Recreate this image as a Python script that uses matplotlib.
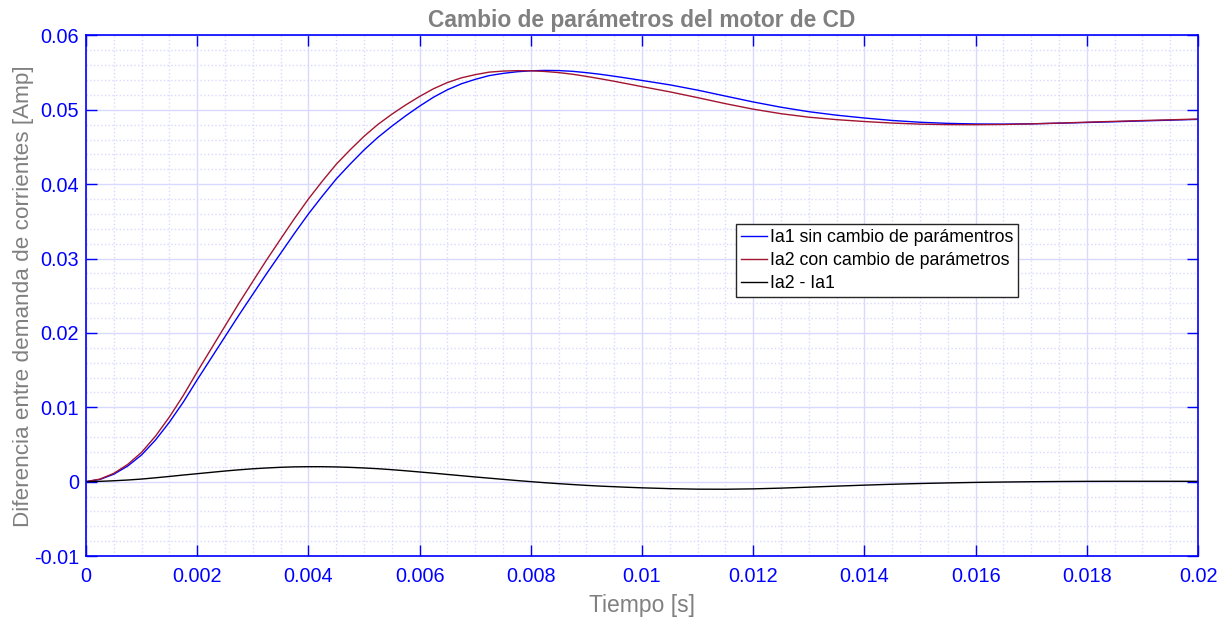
import numpy as np
import matplotlib
matplotlib.use("Agg")
import matplotlib.pyplot as plt
from matplotlib.ticker import MultipleLocator

plt.rcParams['font.family'] = ['Liberation Sans', 'DejaVu Sans']

# tiempo de simulacion [s]: paso fino hasta 10 ms, despues cada 0.5 ms
t = np.r_[np.arange(40) * 0.00025, 0.01 + np.arange(21) * 0.0005]

# corriente sin cambio de parametros [A]
ia1 = [0.0, 0.0003, 0.0010, 0.0021, 0.0036, 0.0056, 0.0080, 0.0107, 0.0137,
       0.0166, 0.0195, 0.0224, 0.0252, 0.0280, 0.0307, 0.0334, 0.0360, 0.0384,
       0.0407, 0.0427, 0.0446, 0.0463, 0.0478, 0.0492, 0.0505, 0.0517, 0.0527,
       0.0535, 0.0541, 0.0546, 0.0549, 0.05512, 0.05525, 0.05530, 0.05528,
       0.05518, 0.05500, 0.05478, 0.05452, 0.05424,
       0.05395, 0.05336, 0.05265, 0.05185, 0.05106, 0.05035, 0.04975, 0.04928,
       0.04890, 0.04857, 0.04833, 0.04818, 0.04810, 0.04808, 0.04812, 0.04820,
       0.04830, 0.04840, 0.04851, 0.04861, 0.04872]

# corriente con cambio de parametros [A]
ia2 = [0.0, 0.00034, 0.00112, 0.00232, 0.00395, 0.00612, 0.0087, 0.01159,
       0.01477, 0.01785, 0.02093, 0.02399, 0.02693, 0.02984, 0.03263, 0.03539,
       0.03801, 0.04041, 0.04268, 0.04462, 0.04644, 0.04804, 0.04941, 0.05066,
       0.0518, 0.05284, 0.05367, 0.0543, 0.05473, 0.05507, 0.05521, 0.05527,
       0.05525, 0.05516, 0.05501, 0.05479, 0.0545, 0.05418, 0.05384, 0.05348,
       0.05312, 0.05242, 0.05164, 0.05083, 0.05009, 0.04948, 0.04901, 0.04868,
       0.04843, 0.04822, 0.04808, 0.04801, 0.048, 0.04803, 0.04811, 0.04822,
       0.04834, 0.04845, 0.04856, 0.04866, 0.04876]

dif = np.array(ia2) - np.array(ia1)

azul = '#0000ff'
gris = '#808080'

fig = plt.figure(figsize=(12.27, 6.18), dpi=100)
ax = fig.add_axes([0.0701, 0.1003, 0.9063, 0.8423])

ax.plot(t, ia1, color=azul, lw=1.0, label='Ia1 sin cambio de parámentros')
ax.plot(t, ia2, color='#a2142f', lw=1.0, label='Ia2 con cambio de parámetros')
ax.plot(t, dif, color='black', lw=1.0, label='Ia2 - Ia1')

ax.set_xlim(0, 0.02)
ax.set_ylim(-0.01, 0.06)
ax.xaxis.set_major_locator(MultipleLocator(0.002))
ax.xaxis.set_minor_locator(MultipleLocator(0.0005))
ax.yaxis.set_major_locator(MultipleLocator(0.01))
ax.yaxis.set_minor_locator(MultipleLocator(0.002))

ax.set_xticklabels([('%g' % v) for v in np.round(ax.get_xticks(), 4)])
ax.set_yticklabels([('%g' % v) for v in np.round(ax.get_yticks(), 4)])

ax.grid(which='major', color='#d9d9ff', lw=1.0, ls='-')
ax.grid(which='minor', color='#d9d9ff', lw=1.0, ls=':')
ax.set_axisbelow(True)

for s in ax.spines.values():
    s.set_color(azul)
    s.set_linewidth(1.2)

ax.tick_params(which='major', direction='in', length=8, width=1.0,
               colors=azul, labelsize=14.3, top=True, right=True)
ax.tick_params(axis='x', which='major', pad=8)
ax.tick_params(axis='y', which='major', pad=5)
ax.tick_params(which='minor', length=0, top=True, right=True)

ax.set_title('Cambio de parámetros del motor de CD', color=gris,
             fontsize=16.4, fontweight='bold', pad=6)
ax.set_xlabel('Tiempo [s]', color=gris, fontsize=16.5, labelpad=6)
ax.set_ylabel('Diferencia entre demanda de corrientes [Amp]', color=gris,
              fontsize=16.2, labelpad=0)

leg = ax.legend(loc='upper left', bbox_to_anchor=(0.5845, 0.638),
                borderaxespad=0, fontsize=12.8, handlelength=1.45,
                handletextpad=0.15, labelspacing=0.33, borderpad=0.3,
                fancybox=False, framealpha=1, edgecolor='#262626')
leg.get_frame().set_linewidth(1.0)

fig.savefig('out.png', dpi=100)
